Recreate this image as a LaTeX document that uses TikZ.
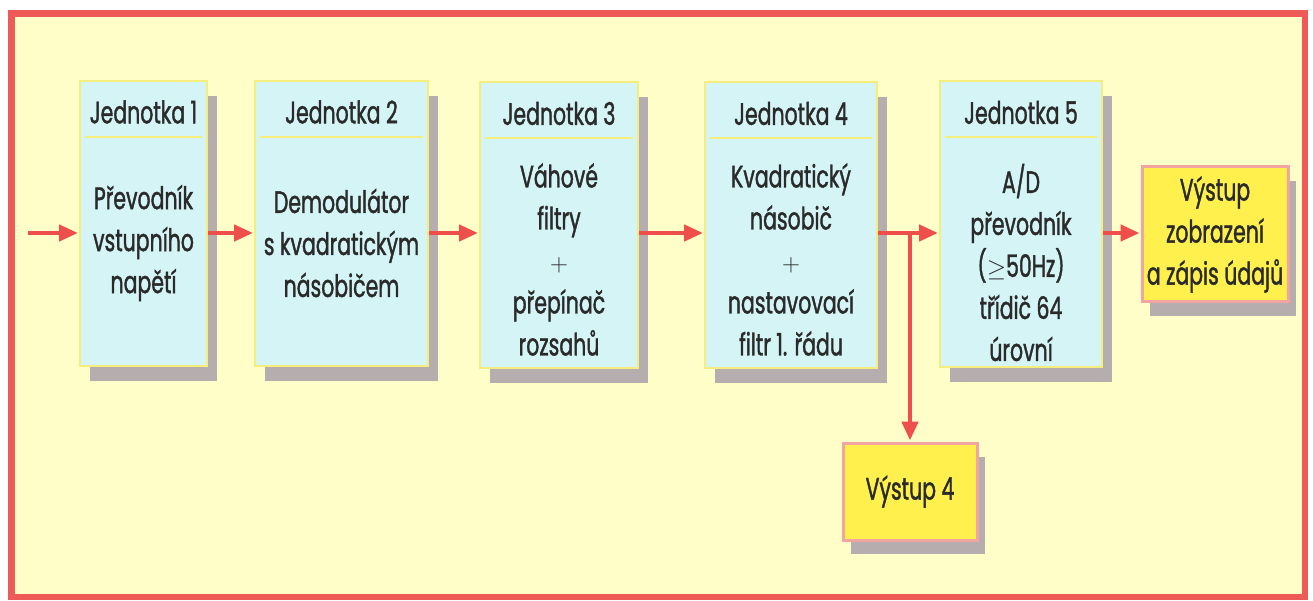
\documentclass[tikz,border=0pt]{standalone}
\usepackage{fontspec}
\setmainfont{Poppins}[FakeStretch=0.66,FakeBold=1.2]
\usetikzlibrary{arrows.meta,shadows,calc}
\definecolor{bg}{HTML}{FFFDC8}
\definecolor{framered}{HTML}{EE5A55}
\definecolor{boxfill}{HTML}{D4F4F6}
\definecolor{boxedge}{HTML}{F6EE7C}
\definecolor{shadowc}{HTML}{B6AEAE}
\definecolor{outfill}{HTML}{FFF04E}
\definecolor{outedge}{HTML}{F2A4A0}
\definecolor{arrred}{HTML}{EE4F4B}
\definecolor{txt}{HTML}{2A2A2A}
\tikzset{
  unit/.style={draw=boxedge, line width=2pt, fill=boxfill, minimum width=#1,
    minimum height=285pt, inner sep=0pt,
    drop shadow={shadow xshift=10pt, shadow yshift=-15pt, fill=shadowc, opacity=1}},
  outbox/.style={draw=outedge, line width=3pt, fill=outfill, inner sep=0pt,
    align=center, text=txt, font=\fontsize{31}{42}\selectfont,
    drop shadow={shadow xshift=8pt, shadow yshift=-14pt, fill=shadowc, opacity=1}},
  head/.style={text=txt, font=\fontsize{31}{42}\selectfont, inner sep=0pt},
  body/.style={text=txt, font=\fontsize{31}{42}\selectfont, align=center, inner sep=0pt},
  divider/.style={draw=boxedge, line width=2pt},
  arr/.style={draw=arrred, line width=4.5pt, -{Triangle[length=19pt,width=16pt]}, shorten >=1pt}
}
\begin{document}
\begin{tikzpicture}[x=1pt,y=-1pt]
\useasboundingbox (0,0) rectangle (1313,601);
\fill[white] (0,0) rectangle (1313,601);
\draw[draw=framered, line width=6.5pt, fill=bg] (11.5,13.5) rectangle (1305,597);

% units
\node[unit=127pt] (b1) at (143.5,223.5) {};
\node[unit=173pt] (b2) at (341.5,223.5) {};
\node[unit=158pt] (b3) at (559,225) {};
\node[unit=172pt] (b4) at (791,225) {};
\node[unit=162pt] (b5) at (1021,224) {};

\node[head] (h1) at ($(b1.north)+(0,32)$) {Jednotka 1};
\node[head] (h2) at ($(b2.north)+(0,32)$) {Jednotka 2};
\node[head] (h3) at ($(b3.north)+(0,32)$) {Jednotka 3};
\node[head] (h4) at ($(b4.north)+(0,32)$) {Jednotka 4};
\node[head] (h5) at ($(b5.north)+(0,32)$) {Jednotka 5};

\draw[divider] ($(b1.north west)+(6,57)$) -- ($(b1.north east)+(-6,57)$);
\draw[divider] ($(b2.north west)+(6,57)$) -- ($(b2.north east)+(-6,57)$);
\draw[divider] ($(b3.north west)+(6,57)$) -- ($(b3.north east)+(-6,57)$);
\draw[divider] ($(b4.north west)+(6,57)$) -- ($(b4.north east)+(-6,57)$);
\draw[divider] ($(b5.north west)+(6,57)$) -- ($(b5.north east)+(-6,57)$);

\node[body] (t1) at ($(b1.north)+(0,163)$) {Převodník\\vstupního\\napětí};
\node[body] (t2) at ($(b2.north)+(0,163)$) {Demodulátor\\s kvadratickým\\násobičem};
\node[body] (t3) at ($(b3.north)+(0,178)$) {Váhové\\filtry\\$+$\\přepínač\\rozsahů};
\node[body] (t4) at ($(b4.north)+(0,178)$) {Kvadratický\\násobič\\$+$\\nastavovací\\filtr 1. řádu};
\node[body] (t5) at ($(b5.north)+(0,182)$) {A/D\\převodník\\($\geq$50Hz)\\třídič 64\\úrovní};

% outputs
\node[outbox, minimum width=146pt, minimum height=135pt] (o1) at (1215,234.5) {Výstup\\zobrazení\\a zápis údajů};
\node[outbox, minimum width=134pt, minimum height=97pt] (o2) at (910,491.5) {Výstup 4};

% connectors
\coordinate (ay) at (0,233);
\coordinate (in) at (28,233);
\draw[arr] (in) -- (b1.west |- ay);
\draw[arr] (b1.east |- ay) -- (b2.west |- ay);
\draw[arr] (b2.east |- ay) -- (b3.west |- ay);
\draw[arr] (b3.east |- ay) -- (b4.west |- ay);
\draw[arr] (b4.east |- ay) -- (b5.west |- ay);
\coordinate (j) at (o2.north |- ay);
\draw[arr] (j) -- (o2.north);
\draw[arr] (b5.east |- ay) -- (o1.west |- ay);
\end{tikzpicture}
\end{document}
